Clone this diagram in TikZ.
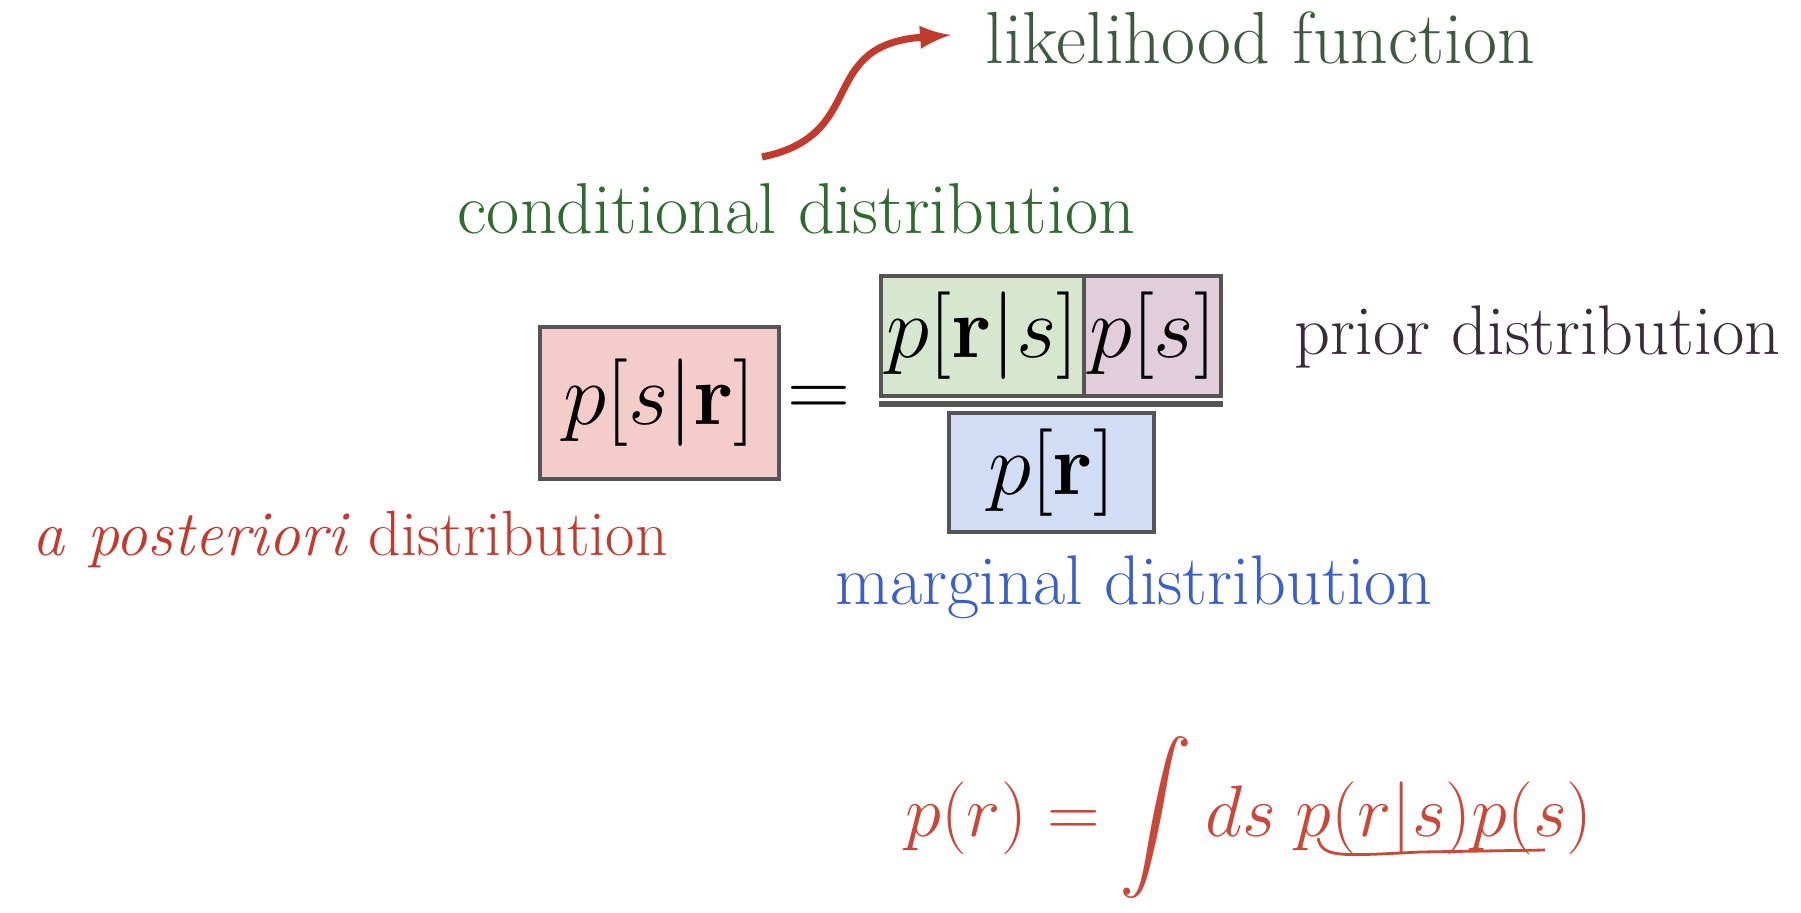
\documentclass[tikz,border=0pt]{standalone}
\usepackage{amsmath}
\definecolor{postfill}{HTML}{F4CCCA}
\definecolor{condfill}{HTML}{D6E6CF}
\definecolor{priorfill}{HTML}{E2CEDB}
\definecolor{margfill}{HTML}{D2DCF4}
\definecolor{boxline}{HTML}{555555}
\definecolor{condgreen}{HTML}{2F6B2F}
\definecolor{likegreen}{HTML}{3E5A3E}
\definecolor{postred}{HTML}{C23A2E}
\definecolor{margblue}{HTML}{3A5FC8}
\definecolor{priorpurple}{HTML}{3B2A3B}
\definecolor{handred}{HTML}{C8483A}
\begin{document}
\begin{tikzpicture}
	[x=0.01cm,y=-0.01cm,
	lbl/.style={font=\fontsize{20}{24}\selectfont,inner sep=0pt,anchor=base west},
	term/.style={draw=boxline,line width=1.2pt,inner sep=0pt,font=\fontsize{26.5}{30}\selectfont},>=latex]
	\useasboundingbox (0,0) rectangle (1801,912);
	% the terms of Bayes' rule
	\node[term,fill=postfill,minimum width=2.39cm,minimum height=1.52cm,name=post]at(659.5,403){$p[s|\mathbf{r}]$};
	\node[font=\fontsize{26}{30}\selectfont,name=eq]at(819,402){$=$};
	\node[term,fill=condfill,minimum width=2.03cm,minimum height=1.2cm,name=cond]at(982.5,336){$p[\mathbf{r}|s]$};
	\node[term,fill=priorfill,minimum width=1.37cm,minimum height=1.2cm,name=prior]at(1152.5,336){$p[s]$};
	\node[term,fill=margfill,minimum width=2.05cm,minimum height=1.19cm,name=marg]at(1051.5,472.5){$p[\mathbf{r}]$};
	\draw[boxline,line width=1.8pt] ([yshift=-0.06cm]cond.south west)--([yshift=-0.06cm]prior.south east);
	% labels
	\node[lbl,text=likegreen,font=\fontsize{21}{25}\selectfont,name=likeli]at(985,63){likelihood function};
	\node[lbl,text=condgreen,font=\fontsize{20.5}{25}\selectfont,name=condlbl]at(457,233){conditional distribution};
	\node[lbl,text=priorpurple,name=priorlbl]at(1294,354){prior distribution};
	\node[lbl,text=postred,font=\fontsize{18.2}{23}\selectfont,name=postlbl]at(32,555){\textit{a posteriori} distribution};
	\node[lbl,text=margblue,name=marglbl]at(835,604){marginal distribution};
	\coordinate (arrfrom) at (762,157);
	\coordinate (arrto) at (951,35);
	\draw[->,postred,line width=2pt] (arrfrom) .. controls (870,135) and (815,45) .. (arrto);
	% handwritten note
	\node[text=handred,font=\fontsize{21}{25}\selectfont,name=hand]at(1249,818){$p(r) = \displaystyle\int ds\; p(r|s)p(s)$};
	\draw[handred,line width=0.8pt] (1318,838) .. controls (1322,858) and (1340,856) .. (1420,852) -- (1545,850);
\end{tikzpicture}
\end{document}
